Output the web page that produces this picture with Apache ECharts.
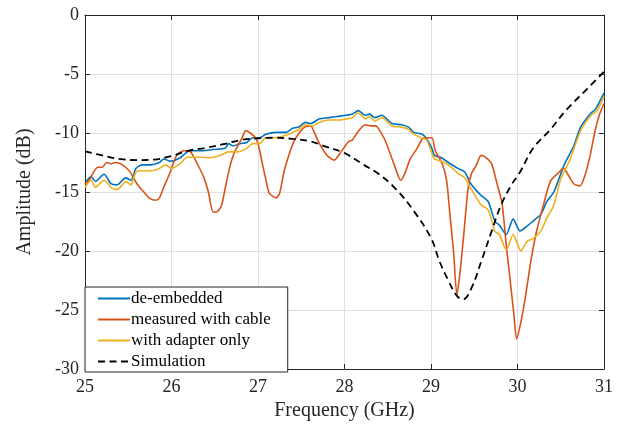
<!DOCTYPE html>
<html>
<head>
<meta charset="utf-8">
<script src="https://cdn.jsdelivr.net/npm/echarts@6/dist/echarts.min.js"></script>
<style>html,body{margin:0;padding:0;background:#fff;}#c{width:626px;height:426px;}</style>
</head>
<body>
<div id="c"></div>
<script>
// ---- data ----
const seriesNames = ['de-embedded', 'measured with cable', 'with adapter only', 'Simulation'];

const freqDeEmb = [25.00,25.07,25.12,25.22,25.30,25.37,25.47,25.53,25.59,25.66,25.76,25.86,25.91,25.99,26.10,26.21,26.36,26.48,26.62,26.66,26.71,26.79,26.87,26.94,27.02,27.09,27.21,27.32,27.40,27.47,27.55,27.61,27.71,27.82,27.92,28.02,28.09,28.16,28.24,28.29,28.35,28.43,28.55,28.66,28.74,28.80,28.90,28.95,29.01,29.04,29.12,29.20,29.31,29.39,29.46,29.58,29.66,29.74,29.79,29.87,29.95,30.03,30.11,30.19,30.27,30.34,30.42,30.54,30.65,30.73,30.85,30.90,31.00];
const deEmbedded = [-14.3,-13.7,-14.1,-13.5,-14.3,-14.4,-13.8,-14.0,-13.0,-12.7,-12.7,-12.5,-12.2,-12.4,-12.1,-11.5,-11.5,-11.4,-11.3,-10.9,-11.1,-10.9,-10.8,-10.4,-10.4,-10.1,-9.95,-9.95,-9.6,-9.5,-9.1,-9.2,-8.8,-8.7,-8.6,-8.5,-8.4,-8.1,-8.5,-8.4,-8.7,-8.5,-9.2,-9.3,-9.5,-9.95,-10.1,-10.5,-11.3,-11.9,-12.1,-12.5,-13.0,-13.3,-14.3,-15.3,-15.8,-17.5,-17.8,-18.6,-17.3,-18.3,-17.9,-17.4,-16.9,-15.8,-15.0,-12.7,-11.1,-9.5,-8.3,-8.0,-6.6];

const freqCable = [25.00,25.05,25.10,25.15,25.20,25.25,25.30,25.36,25.41,25.47,25.53,25.60,25.68,25.74,25.82,25.86,25.91,25.97,26.02,26.06,26.14,26.22,26.29,26.37,26.43,26.48,26.52,26.58,26.62,26.68,26.73,26.81,26.86,26.91,26.98,27.02,27.05,27.09,27.13,27.21,27.25,27.30,27.36,27.42,27.48,27.54,27.61,27.65,27.71,27.80,27.88,27.96,28.05,28.09,28.15,28.24,28.30,28.36,28.42,28.48,28.55,28.59,28.65,28.70,28.76,28.84,28.90,28.95,29.01,29.05,29.13,29.18,29.22,29.26,29.30,29.34,29.38,29.43,29.47,29.52,29.58,29.64,29.70,29.76,29.82,29.87,29.92,29.96,29.99,30.04,30.09,30.16,30.22,30.30,30.38,30.47,30.53,30.59,30.65,30.72,30.78,30.84,30.90,30.95,31.00];
const measuredCable = [-14.3,-14.0,-13.3,-12.9,-12.9,-12.5,-12.6,-12.5,-12.6,-12.9,-13.4,-14.3,-15.0,-15.5,-15.7,-15.5,-14.6,-13.6,-12.6,-11.9,-11.5,-11.6,-12.5,-13.7,-15.1,-16.7,-16.7,-16.1,-14.7,-12.7,-11.6,-10.5,-9.8,-10.0,-10.5,-11.5,-12.6,-13.9,-15.1,-15.5,-15.1,-13.3,-11.8,-10.65,-9.95,-9.5,-9.4,-9.95,-10.9,-11.9,-12.3,-11.6,-10.7,-10.6,-9.95,-9.3,-9.4,-9.4,-9.95,-10.8,-12.2,-13.0,-14.0,-13.4,-12.2,-11.3,-10.5,-10.4,-10.4,-11.5,-12.6,-14.0,-17.0,-20.0,-23.7,-21.5,-18.5,-14.6,-13.4,-12.8,-11.9,-12.1,-12.6,-14.2,-15.9,-19.5,-22.8,-25.5,-27.45,-26.0,-23.95,-20.6,-18.35,-16.1,-14.1,-13.4,-13.0,-13.6,-14.3,-14.5,-13.6,-11.9,-9.7,-8.4,-7.5];

const freqAdapter = [25.00,25.07,25.12,25.22,25.30,25.37,25.43,25.47,25.53,25.59,25.66,25.76,25.86,25.93,26.00,26.10,26.18,26.36,26.44,26.56,26.66,26.76,26.87,26.94,27.02,27.09,27.21,27.32,27.40,27.47,27.55,27.63,27.71,27.82,27.94,28.02,28.09,28.16,28.24,28.29,28.35,28.43,28.55,28.66,28.74,28.80,28.90,28.95,29.01,29.04,29.12,29.20,29.31,29.39,29.46,29.58,29.66,29.74,29.79,29.87,29.95,30.04,30.11,30.19,30.27,30.34,30.42,30.50,30.61,30.73,30.85,30.92,31.00];
const adapterOnly = [-14.6,-14.0,-14.6,-14.0,-14.6,-14.8,-14.4,-14.1,-14.4,-13.3,-13.2,-13.2,-13.0,-12.7,-13.0,-12.6,-12.05,-12.05,-12.1,-11.9,-11.6,-11.6,-11.3,-10.9,-10.9,-10.4,-10.4,-10.2,-9.95,-9.7,-9.3,-9.4,-9.1,-8.9,-8.9,-8.8,-8.7,-8.3,-8.8,-8.6,-9.0,-8.7,-9.4,-9.5,-9.7,-10.1,-10.45,-10.6,-11.7,-12.2,-12.4,-12.7,-13.4,-13.8,-14.7,-16.1,-16.5,-18.35,-18.6,-19.9,-18.6,-20.0,-19.2,-18.9,-18.3,-17.2,-16.1,-13.9,-12.2,-9.8,-8.5,-8.1,-6.9];

const freqSim = [25.0,25.2,25.4,25.6,25.8,26.0,26.2,26.4,26.6,26.8,27.0,27.2,27.4,27.6,27.8,28.0,28.2,28.4,28.6,28.8,29.0,29.1,29.2,29.3,29.37,29.47,29.58,29.70,29.81,29.93,30.03,30.18,30.38,30.57,30.8,31.0];
const simulation = [-11.55,-11.9,-12.2,-12.3,-12.25,-11.95,-11.5,-11.25,-10.95,-10.6,-10.45,-10.4,-10.5,-10.7,-11.2,-11.7,-12.6,-13.5,-14.8,-16.6,-18.9,-20.9,-22.5,-23.8,-24.1,-23.1,-20.9,-18.35,-16.1,-14.4,-13.3,-11.3,-9.7,-8.0,-6.3,-4.8];

const xTicks = [25, 26, 27, 28, 29, 30, 31];
const yTicks = [-30, -25, -20, -15, -10, -5, 0];

// ---- chart ----
const zip = (xs, ys) => xs.map((x, i) => [x, ys[i]]);
const axisColor = '#262626';
const font = 'Liberation Serif';
const chart = echarts.init(document.getElementById('c'), null, {renderer: 'canvas'});

const xBase = {
  type: 'value', min: xTicks[0], max: xTicks[xTicks.length - 1], interval: 1,
  axisLine: {show: true, onZero: false, lineStyle: {color: axisColor, width: 1}},
  axisTick: {show: true, inside: true, length: 5, lineStyle: {color: axisColor}},
};
const yBase = {
  type: 'value', min: yTicks[0], max: yTicks[yTicks.length - 1], interval: 5,
  axisLine: {show: true, onZero: false, lineStyle: {color: axisColor, width: 1}},
  axisTick: {show: true, inside: true, length: 5, lineStyle: {color: axisColor}},
};

const colors = ['#0072BD', '#D95319', '#EDB120', '#000000'];
const lineW = 1.6;

chart.setOption({
  animation: false,
  backgroundColor: '#ffffff',
  grid: {left: 85, right: 22, top: 15, bottom: 54, containLabel: false},
  xAxis: [
    Object.assign({}, xBase, {
      position: 'bottom',
      name: 'Frequency (GHz)', nameLocation: 'middle', nameGap: 32,
      nameTextStyle: {fontFamily: font, fontSize: 20, color: axisColor},
      axisLabel: {show: true, margin: 9, fontFamily: font, fontSize: 18, color: axisColor},
      splitLine: {show: true, lineStyle: {color: '#e0e0e0', width: 1}}
    }),
    Object.assign({}, xBase, {position: 'top', axisLabel: {show: false}, splitLine: {show: false}})
  ],
  yAxis: [
    Object.assign({}, yBase, {
      position: 'left',
      name: 'Amplitude (dB)', nameLocation: 'middle', nameGap: 50,
      nameTextStyle: {fontFamily: font, fontSize: 20, color: axisColor},
      axisLabel: {show: true, margin: 6, fontFamily: font, fontSize: 18, color: axisColor},
      splitLine: {show: true, lineStyle: {color: '#e0e0e0', width: 1}}
    }),
    Object.assign({}, yBase, {position: 'right', axisLabel: {show: false}, splitLine: {show: false}})
  ],
  legend: {
    orient: 'vertical', left: 85, top: 287,
    data: seriesNames,
    backgroundColor: '#ffffff', borderColor: axisColor, borderWidth: 1, borderRadius: 0,
    padding: [3, 17, 2, 12],
    itemGap: 4, itemWidth: 32, itemHeight: 14,
    itemStyle: {opacity: 0},
    textStyle: {fontFamily: font, fontSize: 17, color: '#000', lineHeight: 17, padding: [0, 0, 0, -4]}
  },
  series: [
    {name: seriesNames[0], type: 'line', data: zip(freqDeEmb, deEmbedded), smooth: 0.25, symbol: 'none', lineStyle: {color: colors[0], width: lineW}, itemStyle: {color: colors[0]}, z: 3},
    {name: seriesNames[1], type: 'line', data: zip(freqCable, measuredCable), smooth: 0.25, symbol: 'none', lineStyle: {color: colors[1], width: lineW}, itemStyle: {color: colors[1]}, z: 3},
    {name: seriesNames[2], type: 'line', data: zip(freqAdapter, adapterOnly), smooth: 0.25, symbol: 'none', lineStyle: {color: colors[2], width: lineW}, itemStyle: {color: colors[2]}, z: 3},
    {name: seriesNames[3], type: 'line', data: zip(freqSim, simulation), smooth: 0.4, symbol: 'none', lineStyle: {color: colors[3], width: 1.8, type: [7, 4.5]}, itemStyle: {color: colors[3]}, z: 4}
  ]
});
</script>
</body>
</html>
